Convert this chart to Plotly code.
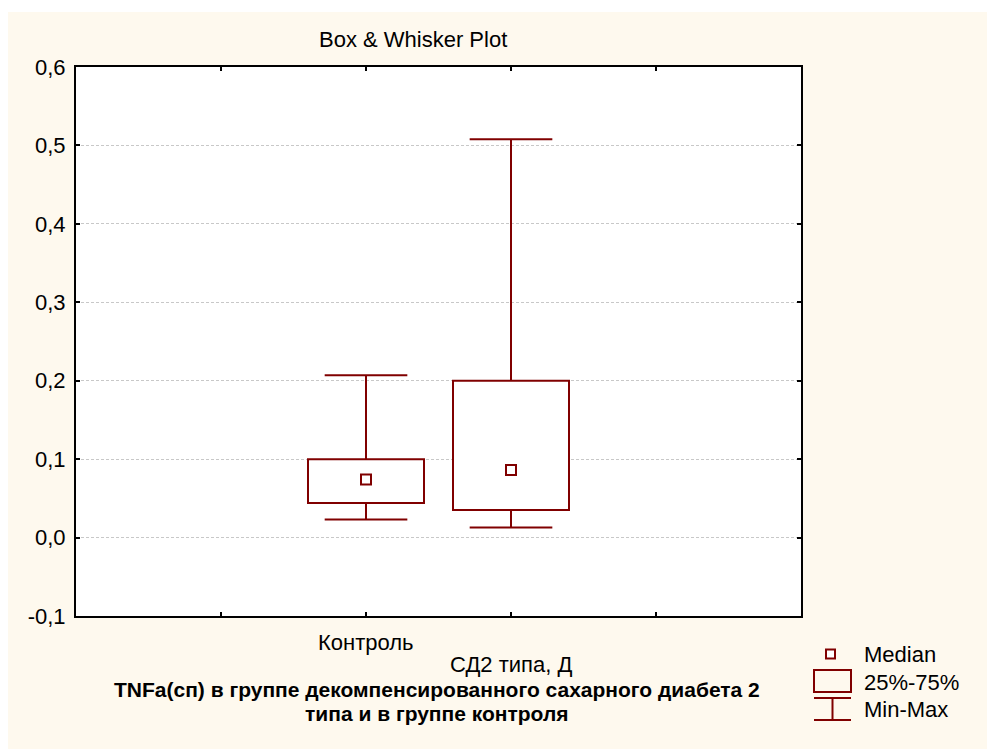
import plotly.graph_objects as go

# ---------------- data ----------------
categories = ["Контроль", "СД2 типа, Д"]
positions = [2, 3]
medians = [0.074, 0.086]
q1_vals = [0.044, 0.035]
q3_vals = [0.100, 0.200]
min_vals = [0.023, 0.013]
max_vals = [0.207, 0.508]
y_ticks = [-0.1, 0.0, 0.1, 0.2, 0.3, 0.4, 0.5, 0.6]
x_ticks = [1, 2, 3, 4]
title_text = "Box & Whisker Plot"
xlabel_lines = ["TNFa(сп) в группе декомпенсированного сахарного диабета 2",
                "типа и в группе контроля"]
legend_labels = ["Median", "25%-75%", "Min-Max"]

# ---------------- style ----------------
W, H = 987, 749
L, R, T, B = 76, 801, 67, 616
DARK = "#800000"
CREAM = "#FEF9EE"
FONT = "Liberation Sans, Arial, sans-serif"
FS = 22
BOX_W = 0.8
CAP = 0.285


def px(xp):
    return (xp - L) / (R - L)


def py(yp):
    return (B - yp) / (B - T)


fig = go.Figure()

# boxes (25%-75%)
fig.add_trace(go.Bar(
    x=positions,
    base=q1_vals,
    y=[b - a for a, b in zip(q1_vals, q3_vals)],
    width=BOX_W,
    marker=dict(color="white", line=dict(color=DARK, width=2)),
    showlegend=False, hoverinfo="skip",
))

# whiskers (Min-Max)
wx, wy = [], []
for p, lo, hi, mn, mx in zip(positions, q1_vals, q3_vals, min_vals, max_vals):
    wx += [p, p, None, p, p, None, p - CAP, p + CAP, None, p - CAP, p + CAP, None]
    wy += [hi, mx, None, lo, mn, None, mx, mx, None, mn, mn, None]
fig.add_trace(go.Scatter(
    x=wx, y=wy, mode="lines",
    line=dict(color=DARK, width=2),
    showlegend=False, hoverinfo="skip",
))

# medians
fig.add_trace(go.Scatter(
    x=positions, y=medians, mode="markers",
    marker=dict(symbol="square", size=10, color="white",
                line=dict(color=DARK, width=2)),
    showlegend=False,
))

shapes = [
    dict(type="rect", xref="paper", yref="paper",
         x0=px(0), x1=px(W), y0=py(0), y1=py(12),
         fillcolor="white", line=dict(width=0), layer="above"),
    dict(type="rect", xref="paper", yref="paper",
         x0=px(0), x1=px(8), y0=py(H), y1=py(0),
         fillcolor="white", line=dict(width=0), layer="above"),
    # legend: median
    dict(type="rect", xref="paper", yref="paper",
         x0=px(826), x1=px(835), y0=py(658.5), y1=py(649.5),
         fillcolor="white", line=dict(color=DARK, width=2)),
    # legend: box
    dict(type="rect", xref="paper", yref="paper",
         x0=px(814), x1=px(851), y0=py(692), y1=py(670),
         fillcolor=CREAM, line=dict(color=DARK, width=2)),
    # legend: min-max
    dict(type="line", xref="paper", yref="paper",
         x0=px(814), x1=px(851), y0=py(698), y1=py(698),
         line=dict(color=DARK, width=2)),
    dict(type="line", xref="paper", yref="paper",
         x0=px(814), x1=px(851), y0=py(720), y1=py(720),
         line=dict(color=DARK, width=2)),
    dict(type="line", xref="paper", yref="paper",
         x0=px(832.5), x1=px(832.5), y0=py(698), y1=py(720),
         line=dict(color=DARK, width=2)),
]

annotations = [
    dict(text=title_text, xref="paper", yref="paper", x=px(413), y=py(40),
         xanchor="center", yanchor="middle", showarrow=False,
         font=dict(size=FS, family=FONT, color="black")),
]
cat_y = [642, 664]
for c, p, yy in zip(categories, positions, cat_y):
    annotations.append(dict(text=c, xref="x", yref="paper", x=p, y=py(yy),
                            xanchor="center", yanchor="middle", showarrow=False,
                            font=dict(size=FS, family=FONT, color="black")))
for line, yy in zip(xlabel_lines, [689, 713]):
    annotations.append(dict(text="<b>" + line + "</b>", xref="paper", yref="paper",
                            x=px(437), y=py(yy), xanchor="center", yanchor="middle",
                            showarrow=False,
                            font=dict(size=FS - 1, family=FONT, color="black")))
for lab, yy in zip(legend_labels, [654, 682, 710]):
    annotations.append(dict(text=lab, xref="paper", yref="paper",
                            x=px(862), y=py(yy), xanchor="left", yanchor="middle",
                            showarrow=False,
                            font=dict(size=FS, family=FONT, color="black")))

fig.update_layout(
    width=W, height=H, autosize=False,
    margin=dict(l=L, r=W - R, t=T, b=H - B, pad=0),
    paper_bgcolor=CREAM, plot_bgcolor="white",
    font=dict(family=FONT, size=FS, color="black"),
    barmode="overlay",
    showlegend=False,
    shapes=shapes,
    annotations=annotations,
    xaxis=dict(range=[0, 5], tickvals=x_ticks, showticklabels=False,
               ticks="inside", ticklen=4, tickwidth=2, tickcolor="black",
               showline=True, linewidth=2, linecolor="black", mirror="ticks",
               showgrid=False, zeroline=False, fixedrange=True),
    yaxis=dict(range=[-0.1, 0.6], tickvals=y_ticks,
               ticktext=[f"{v:.1f}".replace(".", ",") for v in y_ticks],
               ticks="inside", ticklen=4, tickwidth=2, tickcolor="black",
               showline=True, linewidth=2, linecolor="black", mirror="ticks",
               showgrid=True, gridcolor="#C8C8C8", gridwidth=1,
               griddash="3px,2px", zeroline=False,
               tickfont=dict(size=FS, family=FONT, color="black"),
               ticklabelstandoff=4, fixedrange=True),
)

fig.write_html("out.html")
